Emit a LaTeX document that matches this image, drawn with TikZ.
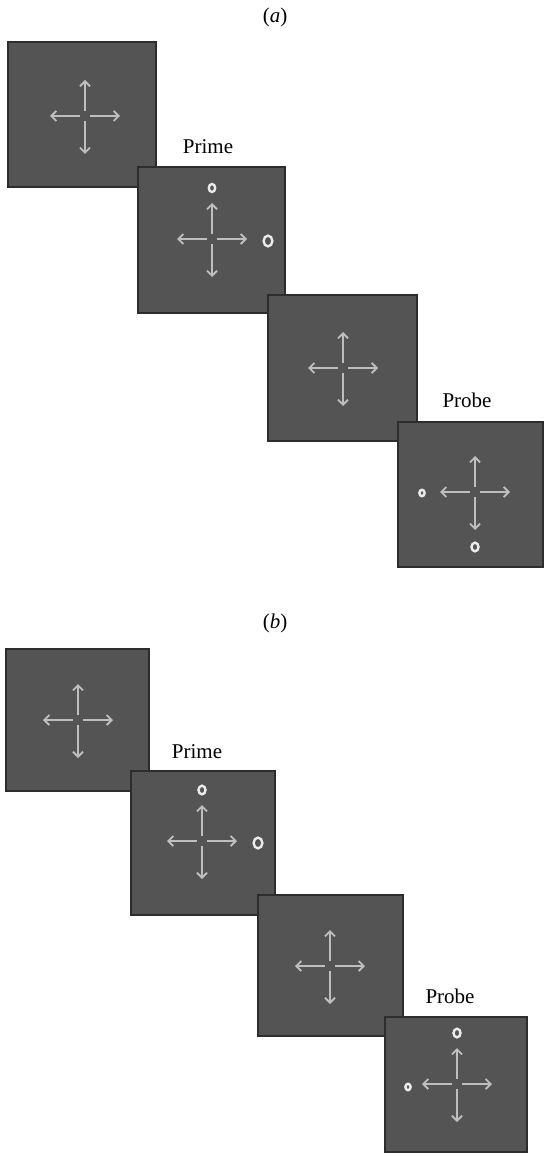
\documentclass[tikz,border=0pt]{standalone}
\usepackage{fontspec}
\setmainfont{Liberation Serif}
\usetikzlibrary{arrows.meta,calc}
\definecolor{boxfill}{RGB}{84,84,84}
\definecolor{boxline}{RGB}{45,45,45}
\definecolor{arrowcol}{RGB}{190,190,190}
\definecolor{ringcol}{RGB}{235,235,235}
\tikzset{
  screen/.style={draw=boxline, line width=1.2pt, fill=boxfill, inner sep=0pt},
  armline/.style={draw=arrowcol, line width=1.9pt, -{Straight Barb[length=5pt,width=10pt,line width=1.9pt]}},
  ring/.style={draw=ringcol, line width=2.4pt},
  caption/.style={font=\fontsize{21}{24}\selectfont, anchor=base, inner sep=0pt},
}
\newcommand{\crossarrows}[1]{%
  \draw[armline] ($(#1)+(0,-5)$) -- ($(#1)+(0,-36)$);
  \draw[armline] ($(#1)+(0,5)$) -- ($(#1)+(0,38)$);
  \draw[armline] ($(#1)+(-5,0)$) -- ($(#1)+(-35,0)$);
  \draw[armline] ($(#1)+(5,0)$) -- ($(#1)+(35,0)$);
}
\begin{document}
\begin{tikzpicture}[x=1pt,y=-1pt]
\useasboundingbox (0,0) rectangle (543,1158);
\fill[white] (0,0) rectangle (543,1158);

% ---- panel (a)
\node[caption] (la) at (275,23) {(\textit{a})};
\node[screen, minimum width=148pt, minimum height=145pt] (a1) at (82,114.5) {};
\coordinate (c1) at (85,116);
\crossarrows{c1}
\node[caption] (prime1) at (208,154) {Prime};
\node[screen, minimum width=147pt, minimum height=146pt] (a2) at (211.5,240) {};
\coordinate (c2) at (212,239);
\crossarrows{c2}
\draw[ring] (212,188) ellipse [x radius=3.2pt, y radius=4pt];
\draw[ring] (268,241) ellipse [x radius=4.4pt, y radius=5.4pt];
\node[screen, minimum width=149pt, minimum height=146pt] (a3) at (342.5,368) {};
\coordinate (c3) at (343,368);
\crossarrows{c3}
\node[caption] (probe1) at (467,407) {Probe};
\node[screen, minimum width=145pt, minimum height=145pt] (a4) at (470.5,494.5) {};
\coordinate (c4) at (475,492);
\crossarrows{c4}
\draw[ring] (422,493) ellipse [x radius=2.6pt, y radius=3.2pt];
\draw[ring] (475,547) ellipse [x radius=3.5pt, y radius=4.3pt];

% ---- panel (b)
\node[caption] (lb) at (275,628) {(\textit{b})};
\node[screen, minimum width=143pt, minimum height=142pt] (b1) at (77.5,720) {};
\coordinate (d1) at (78,720);
\crossarrows{d1}
\node[caption] (prime2) at (197,758) {Prime};
\node[screen, minimum width=144pt, minimum height=144pt] (b2) at (203,843) {};
\coordinate (d2) at (202,841);
\crossarrows{d2}
\draw[ring] (202,790) ellipse [x radius=3.5pt, y radius=4.3pt];
\draw[ring] (258,843) ellipse [x radius=4.4pt, y radius=5.4pt];
\node[screen, minimum width=145pt, minimum height=141pt] (b3) at (330.5,965.5) {};
\coordinate (d3) at (330,966);
\crossarrows{d3}
\node[caption] (probe2) at (450,1003) {Probe};
\node[screen, minimum width=142pt, minimum height=135pt] (b4) at (456,1084.5) {};
\coordinate (d4) at (457,1084);
\crossarrows{d4}
\draw[ring] (457,1033) ellipse [x radius=3.5pt, y radius=4.3pt];
\draw[ring] (408,1087) ellipse [x radius=2.6pt, y radius=3.2pt];
\end{tikzpicture}
\end{document}
